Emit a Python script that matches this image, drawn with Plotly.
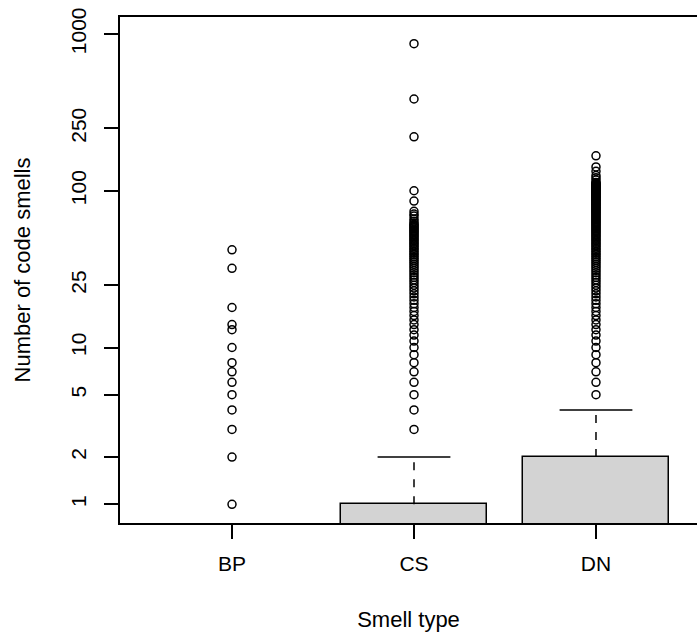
import plotly.graph_objects as go

# Smell types and box statistics (counts per file; zero quartiles sit below the log axis)
categories = ["BP", "CS", "DN"]
q1 = [0, 0, 0]
medians = [0, 0, 0]
q3 = [0, 1, 2]
upper_whisker = [0, 2, 4]

# Outlying counts per smell type
outliers_bp = [1, 2, 3, 4, 5, 6, 7, 8, 10, 13, 14, 18, 32, 42]
outliers_cs = list(range(3, 63)) + [64, 66, 69, 71, 74, 86, 100, 221, 385, 867]
outliers_dn = list(range(5, 114)) + [117, 121, 125, 133, 142, 167]
outliers = [outliers_bp, outliers_cs, outliers_dn]

y_ticks = [1, 2, 5, 10, 25, 100, 250, 1000]

positions = [1, 2, 3]
box_width = 0.8
cap_half = box_width / 4

fig = go.Figure()

# Boxes: bars rising from the bottom of the log axis to the upper quartile
box_x = [p for p, v in zip(positions, q3) if v > 0]
box_y = [v for v in q3 if v > 0]
fig.add_trace(go.Bar(
    x=box_x, y=box_y, width=box_width,
    marker=dict(color="#d3d3d3", line=dict(color="black", width=1.5)),
    cliponaxis=True, hoverinfo="skip",
))

# Dashed whiskers from upper quartile to whisker end, with solid caps
wx, wy, cx, cy = [], [], [], []
for p, top, w in zip(positions, q3, upper_whisker):
    if w > 0 and top > 0:
        wx += [p, p, None]
        wy += [top, w, None]
        cx += [p - cap_half, p + cap_half, None]
        cy += [w, w, None]
fig.add_trace(go.Scatter(
    x=wx, y=wy, mode="lines",
    line=dict(color="black", width=1.5, dash="8px,9px"), hoverinfo="skip",
))
fig.add_trace(go.Scatter(
    x=cx, y=cy, mode="lines",
    line=dict(color="black", width=1.5), hoverinfo="skip",
))

# Outlier points
for p, vals in zip(positions, outliers):
    fig.add_trace(go.Scatter(
        x=[p] * len(vals), y=vals, mode="markers",
        marker=dict(symbol="circle-open", size=8, color="black",
                    line=dict(width=1.5)),
        hoverinfo="y",
    ))

tick_font = dict(family="Liberation Sans, Arial, sans-serif", size=21, color="black")
title_font = dict(family="Liberation Sans, Arial, sans-serif", size=22, color="black")

fig.update_layout(
    width=697, height=635,
    margin=dict(l=120, r=0, t=17, b=112),
    paper_bgcolor="white", plot_bgcolor="white",
    showlegend=False, bargap=0,
    font=tick_font,
    xaxis=dict(
        range=[0.3846, 3.555],
        tickmode="array", tickvals=positions, ticktext=categories,
        tickfont=tick_font,
        ticks="outside", ticklen=14, tickwidth=1.5, tickcolor="black",
        ticklabelstandoff=7,
        showline=True, linecolor="black", linewidth=1.5, mirror=True,
        showgrid=False, zeroline=False,
        title=dict(text="Smell type", font=title_font, standoff=38),
    ),
    yaxis=dict(
        type="log", range=[-0.1195, 3.1085],
        tickmode="array", tickvals=y_ticks, ticktext=[str(t) for t in y_ticks],
        tickfont=tick_font, tickangle=-90,
        ticks="outside", ticklen=14, tickwidth=1.5, tickcolor="black",
        ticklabelstandoff=10,
        showline=True, linecolor="black", linewidth=1.5, mirror=False,
        showgrid=False, zeroline=False,
        title=dict(text="Number of code smells", font=title_font, standoff=30),
    ),
)

fig.write_html("out.html")
